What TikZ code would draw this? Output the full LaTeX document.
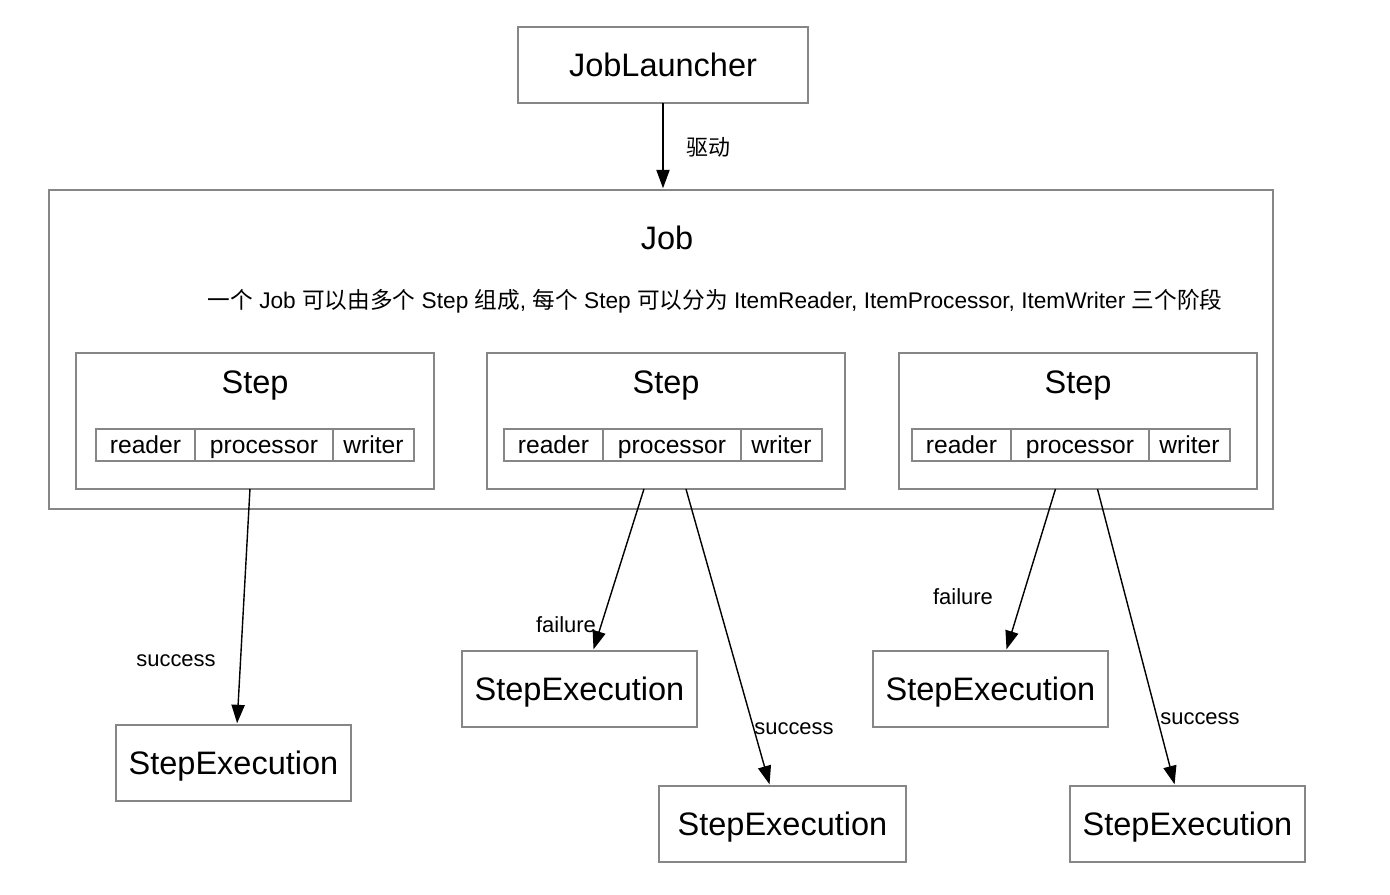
\documentclass[tikz,border=0pt]{standalone}
\usepackage{fontspec}
\setmainfont{Liberation Sans}
\newfontfamily\cjk{Noto Sans CJK SC}
\usepackage{tikz}
\usetikzlibrary{calc}
\usetikzlibrary{arrows.meta}
\newcommand{\zh}[1]{{\cjk #1}}
\tikzset{
 box/.style={draw=gray!95, line width=.8pt, fill=white, inner sep=0, outer sep=0},
 bigtxt/.style={font=\fontsize{18.5}{20}\selectfont, text height=13.3pt, text depth=0pt},
 celltxt/.style={font=\fontsize{14}{15}\selectfont, text height=10pt, text depth=0pt},
 lbl/.style={font=\fontsize{12.5}{14}\selectfont, inner sep=0},
 flow/.style={black, line width=.8pt, -{Triangle[length=10.5pt,width=7.5pt]}, shorten >=1pt}
}
\begin{document}
\begin{tikzpicture} [x=0.02cm, y=-0.02cm]
\useasboundingbox (0,0) rectangle (1390,894);
% launcher and job
\node[box, bigtxt, minimum width=5.8cm, minimum height=1.52cm] (launcher) at (663,65) {JobLauncher};
\node[box, minimum width=24.48cm, minimum height=6.38cm] (job) at (661,349.5) {};
\node[bigtxt] (jobtitle) at (667,238) {Job};
\node[lbl, font=\fontsize{12.9}{14}\selectfont] (desc) at (715,301) {\zh{一个} Job \zh{可以由多个} Step \zh{组成}, \zh{每个} Step \zh{可以分为} ItemReader, ItemProcessor, ItemWriter \zh{三个阶段}};
\draw[flow] (launcher.south) -- (launcher.south |- job.north);
\node[lbl] (drive) at (708,147) {\zh{驱动}};
% steps with reader / processor / writer
\foreach \i/\x/\o in {1/76/20,2/487/17,3/899/13} {
 \node[box, anchor=north west, minimum width=7.16cm, minimum height=2.72cm] (step\i) at (\x,353) {};
 \node[bigtxt] (steptitle\i) at (\x+179,382) {Step};
 \node[box, celltxt, anchor=west, minimum width=1.98cm, minimum height=.64cm] (reader\i) at (\x+\o,445) {reader};
 \node[box, celltxt, anchor=west, minimum width=2.76cm, minimum height=.64cm] (proc\i) at (reader\i.east) {processor};
 \node[box, celltxt, anchor=west, minimum width=1.62cm, minimum height=.64cm] (writer\i) at (proc\i.east) {writer};
}
% executions
\node[box, bigtxt, minimum width=4.7cm, minimum height=1.52cm] (exec1) at (233.5,763) {StepExecution};
\node[box, bigtxt, minimum width=4.7cm, minimum height=1.52cm] (exec2) at (579.5,689) {StepExecution};
\node[box, bigtxt, minimum width=4.94cm, minimum height=1.52cm] (exec3) at (782.5,824) {StepExecution};
\node[box, bigtxt, minimum width=4.7cm, minimum height=1.52cm] (exec4) at (990.5,689) {StepExecution};
\node[box, bigtxt, minimum width=4.7cm, minimum height=1.52cm] (exec5) at (1187.5,824) {StepExecution};
% outcomes
\draw[flow] ([xshift=-0.1cm]step1.south) -- ([xshift=0.07cm]exec1.north);
\draw[flow] ([xshift=-0.44cm]step2.south) -- ([xshift=0.27cm]exec2.north);
\draw[flow] ([xshift=0.4cm]step2.south) -- ([xshift=-0.25cm]exec3.north);
\draw[flow] ([xshift=-0.45cm]step3.south) -- ([xshift=0.31cm]exec4.north);
\draw[flow] ([xshift=0.39cm]step3.south) -- ([xshift=-0.25cm]exec5.north);
\node[lbl] (ok1) at (176,661) {success};
\node[lbl] (fail1) at (566,625) {failure};
\node[lbl] (ok2) at (794,729) {success};
\node[lbl] (fail2) at (963,597) {failure};
\node[lbl] (ok3) at (1200,719) {success};
\end{tikzpicture}
\end{document}
